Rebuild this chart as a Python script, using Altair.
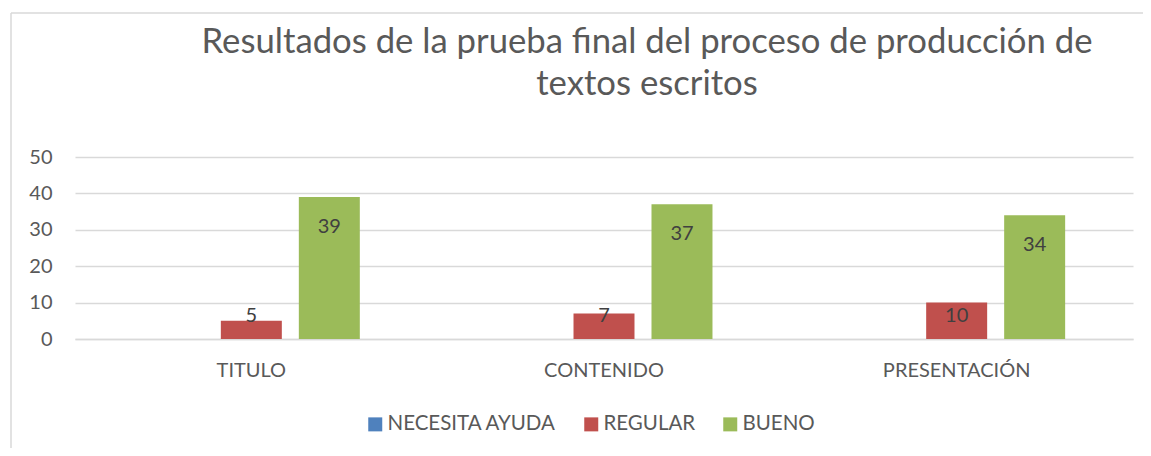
import altair as alt
import pandas as pd

# ---- data ----
categories = ["TITULO", "CONTENIDO", "PRESENTACIÓN"]
series = ["NECESITA AYUDA", "REGULAR", "BUENO"]
necesita_ayuda = [0, 0, 0]
regular = [5, 7, 10]
bueno = [39, 37, 34]
colors = ["#4F81BD", "#C0504D", "#9BBB59"]
y_ticks = [0, 10, 20, 30, 40, 50]
title_lines = ["Resultados de la prueba final del proceso de producción de", "textos escritos"]

rows = []
for s, vals in zip(series, [necesita_ayuda, regular, bueno]):
    for c, v in zip(categories, vals):
        rows.append({"categoria": c, "serie": s, "valor": v})
df = pd.DataFrame(rows)

FONT = "Lato"
GREY = "#595959"
GRID = "#D9D9D9"

x_enc = alt.X(
    "categoria:N", sort=categories, title=None,
    scale=alt.Scale(paddingInner=0, paddingOuter=0),
    axis=alt.Axis(labelFontSize=20, labelColor=GREY, labelFont=FONT, labelAngle=0,
                  ticks=False, tickSize=0, labelPadding=21, domainColor=GRID,
                  domainWidth=1.5, grid=False, labelOverlap=False),
)
xo_enc = alt.XOffset("serie:N", sort=series,
                     scale=alt.Scale(paddingInner=0.218, paddingOuter=0.87))
y_scale = alt.Scale(domain=[0, 50])
y_axis = alt.Axis(values=y_ticks, labelFontSize=20, labelColor=GREY, labelFont=FONT,
                  ticks=False, tickSize=0, labelPadding=23, domain=False,
                  gridColor=GRID, gridWidth=1.5, labelOverlap=False)
color_enc = alt.Color(
    "serie:N", sort=series,
    scale=alt.Scale(domain=series, range=colors),
    legend=alt.Legend(title=None, orient="none", legendX=290, legendY=257,
                      direction="horizontal", symbolType="square", symbolSize=196,
                      symbolStrokeWidth=0, labelFontSize=20.5, labelFont=FONT,
                      labelColor=GREY, labelOffset=2, columnPadding=24, padding=0,
                      labelLimit=0),
)

bars = alt.Chart(df).mark_bar().encode(
    x=x_enc, xOffset=xo_enc,
    y=alt.Y("valor:Q", title=None, scale=y_scale, axis=y_axis),
    color=color_enc,
)

labels = alt.Chart(df).transform_filter("datum.valor > 0").transform_calculate(
    pos="max(datum.valor - 9.8, 4.8)"
).mark_text(font=FONT, fontSize=20, color="#404040", baseline="alphabetic").encode(
    x=x_enc, xOffset=xo_enc,
    y=alt.Y("pos:Q", title=None, scale=y_scale, axis=y_axis),
    text="valor:Q",
)

one = alt.Data(values=[{"k": 1}])
frame_left = alt.Chart(one).mark_rule(color=GRID, strokeWidth=1.5).encode(
    x=alt.value(-64), y=alt.value(-144), y2=alt.value(300))
frame_top = alt.Chart(one).mark_rule(color=GRID, strokeWidth=1.5).encode(
    x=alt.value(-64), x2=alt.value(1070), y=alt.value(-144))

chart = alt.layer(frame_left, frame_top, bars, labels).properties(
    width=1058, height=182,
    title=alt.Title(title_lines, font=FONT, fontSize=34.7, color=GREY,
                    fontWeight="normal", anchor="middle", frame="group",
                    dx=43, dy=90, offset=0, lineHeight=42),
    autosize=alt.AutoSizeParams(type="none"),
    padding={"left": 67, "top": 149, "right": 10, "bottom": 109},
    background="white",
).configure_view(stroke=None)

chart.save("out.html", embed_options={"renderer": "svg", "actions": False})
